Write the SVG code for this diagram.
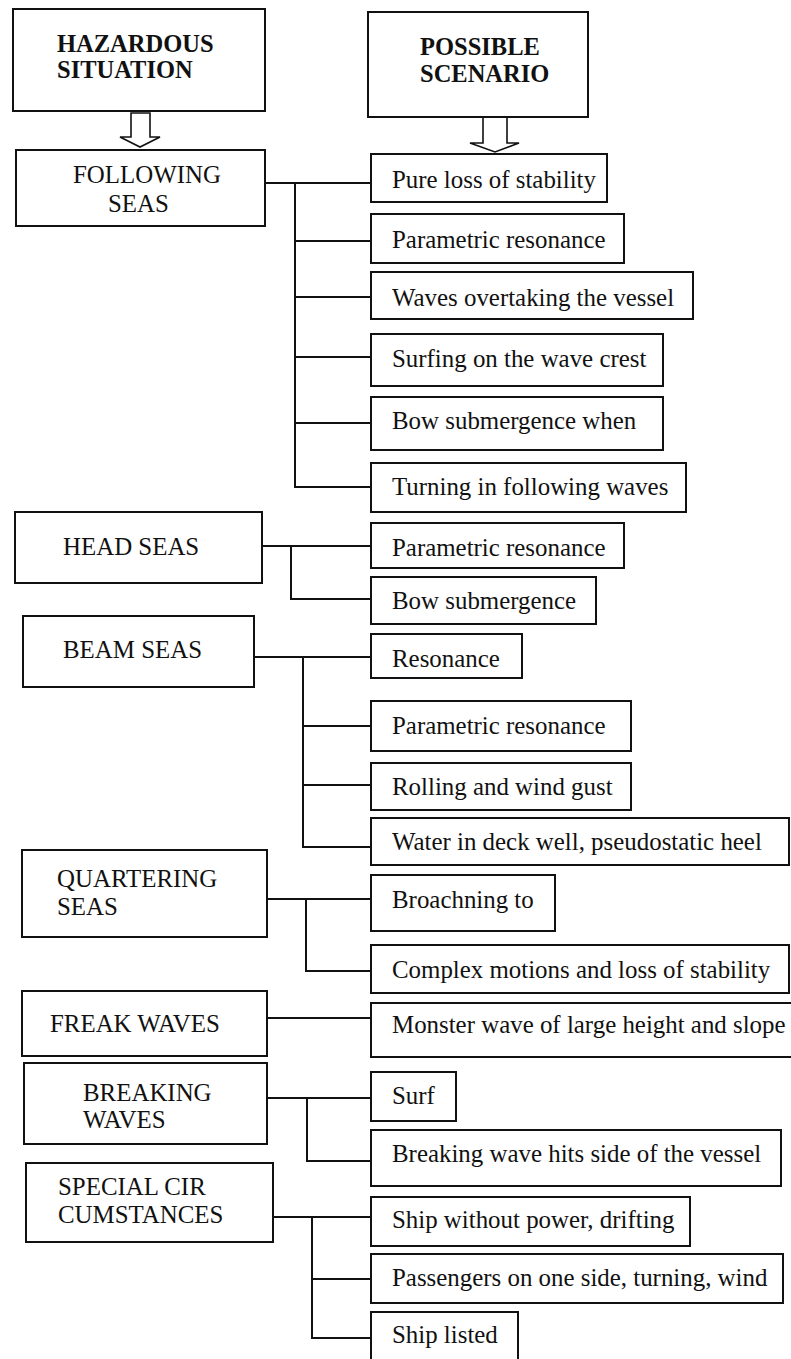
<svg xmlns="http://www.w3.org/2000/svg" width="791" height="1359" viewBox="0 0 791 1359">
<style>
.b{fill:#fff;stroke:#111;stroke-width:2}
.t{font-family:"Liberation Serif","Times New Roman",serif;font-size:24.9px;fill:#111}
.h{font-weight:bold;font-size:24.5px}
.c{fill:none;stroke:#111;stroke-width:2}
.ar{fill:#fff;stroke:#111;stroke-width:1.6;stroke-linejoin:miter}
</style>
<rect width="791" height="1359" fill="#fff"/>
<g id="connectors">
<polygon class="ar" points="131,113 150,113 150,137 160,137 140,147 120,137 131,137"/>
<polygon class="ar" points="483,117 507,117 507,143 519,143 495,152 470,143 483,143"/>
<path class="c" d="M265,183H371M295,183V487H371M295,241H371M295,297H371M295,357H371M295,423H371"/>
<path class="c" d="M262,546H371M291,546V599H371"/>
<path class="c" d="M254,657H371M303,657V847H371M303,726H371M303,785H371"/>
<path class="c" d="M267,899H371M306,899V971H371"/>
<path class="c" d="M267,1018H371"/>
<path class="c" d="M267,1098H371M307,1098V1161H371"/>
<path class="c" d="M273,1217H371M312,1217V1338H371M312,1279H371"/>
</g>
<g id="hazardous"><rect class="b" x="13" y="9" width="252" height="102"/><text class="t h" x="57" y="52">HAZARDOUS</text><text class="t h" x="57" y="78">SITUATION</text></g>
<g id="possible"><rect class="b" x="368" y="12" width="220" height="105"/><text class="t h" x="420" y="55">POSSIBLE</text><text class="t h" x="420" y="82">SCENARIO</text></g>
<g id="following"><rect class="b" x="16" y="150" width="249" height="76"/><text class="t" x="73" y="183">FOLLOWING</text><text class="t" x="108" y="212">SEAS</text></g>
<g id="f1"><rect class="b" x="371" y="154" width="236" height="48"/><text class="t" x="392" y="188">Pure loss of stability</text></g>
<g id="f2"><rect class="b" x="371" y="214" width="253" height="49"/><text class="t" x="392" y="248">Parametric resonance</text></g>
<g id="f3"><rect class="b" x="371" y="272" width="322" height="47"/><text class="t" x="392" y="306">Waves overtaking the vessel</text></g>
<g id="f4"><rect class="b" x="371" y="334" width="292" height="52"/><text class="t" x="392" y="367">Surfing on the wave crest</text></g>
<g id="f5"><rect class="b" x="371" y="397" width="292" height="53"/><text class="t" x="392" y="429">Bow submergence when</text></g>
<g id="f6"><rect class="b" x="371" y="463" width="315" height="49"/><text class="t" x="392" y="495">Turning in following waves</text></g>
<g id="head"><rect class="b" x="15" y="512" width="247" height="71"/><text class="t" x="63" y="555">HEAD SEAS</text></g>
<g id="h1"><rect class="b" x="371" y="523" width="253" height="45"/><text class="t" x="392" y="556">Parametric resonance</text></g>
<g id="h2"><rect class="b" x="371" y="577" width="225" height="47"/><text class="t" x="392" y="609">Bow submergence</text></g>
<g id="beam"><rect class="b" x="23" y="616" width="231" height="71"/><text class="t" x="63" y="658">BEAM SEAS</text></g>
<g id="b1"><rect class="b" x="371" y="634" width="151" height="44"/><text class="t" x="392" y="667">Resonance</text></g>
<g id="b2"><rect class="b" x="371" y="701" width="260" height="50"/><text class="t" x="392" y="734">Parametric resonance</text></g>
<g id="b3"><rect class="b" x="371" y="763" width="260" height="47"/><text class="t" x="392" y="795">Rolling and wind gust</text></g>
<g id="b4"><rect class="b" x="371" y="818" width="418" height="47"/><text class="t" x="392" y="850">Water in deck well, pseudostatic heel</text></g>
<g id="quartering"><rect class="b" x="22" y="850" width="245" height="87"/><text class="t" x="57" y="887">QUARTERING</text><text class="t" x="57" y="915">SEAS</text></g>
<g id="q1"><rect class="b" x="371" y="875" width="184" height="56"/><text class="t" x="392" y="908">Broachning to</text></g>
<g id="q2"><rect class="b" x="371" y="945" width="418" height="48"/><text class="t" x="392" y="978">Complex motions and loss of stability</text></g>
<g id="freak"><rect class="b" x="22" y="991" width="245" height="65"/><text class="t" x="50" y="1032">FREAK WAVES</text></g>
<g id="fr1"><rect class="b" x="371" y="1003" width="425" height="54"/><text class="t" x="392" y="1033">Monster wave of large height and slope</text></g>
<g id="breaking"><rect class="b" x="24" y="1063" width="243" height="81"/><text class="t" x="83" y="1101">BREAKING</text><text class="t" x="83" y="1128">WAVES</text></g>
<g id="br1"><rect class="b" x="371" y="1072" width="85" height="49"/><text class="t" x="392" y="1104">Surf</text></g>
<g id="br2"><rect class="b" x="371" y="1130" width="410" height="56"/><text class="t" x="392" y="1162">Breaking wave hits side of the vessel</text></g>
<g id="special"><rect class="b" x="26" y="1163" width="247" height="79"/><text class="t" x="58" y="1195">SPECIAL CIR</text><text class="t" x="58" y="1223">CUMSTANCES</text></g>
<g id="s1"><rect class="b" x="371" y="1197" width="319" height="49"/><text class="t" x="392" y="1228">Ship without power, drifting</text></g>
<g id="s2"><rect class="b" x="371" y="1254" width="412" height="49"/><text class="t" x="392" y="1286">Passengers on one side, turning, wind</text></g>
<g id="s3"><rect class="b" x="371" y="1312" width="147" height="60"/><text class="t" x="392" y="1343">Ship listed</text></g>
</svg>
